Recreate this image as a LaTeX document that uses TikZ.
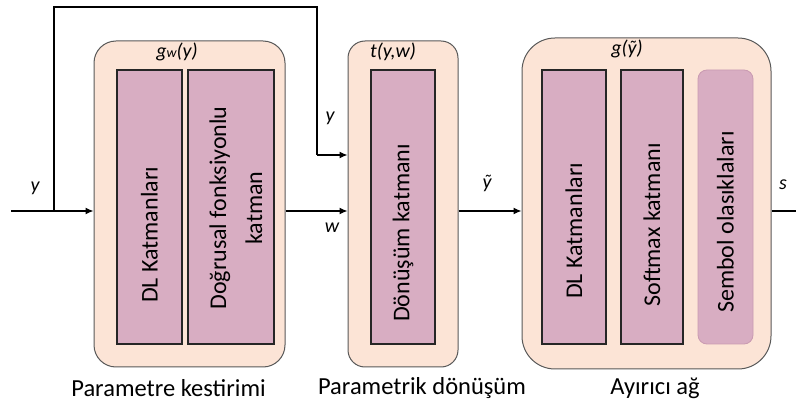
\documentclass[tikz,border=0pt]{standalone}
\usepackage{fontspec}
\setmainfont{Carlito}
\usetikzlibrary{arrows.meta, positioning}
\definecolor{stagefill}{HTML}{FCE4D6}
\definecolor{stagedraw}{HTML}{595959}
\definecolor{layerfill}{HTML}{D8ADC2}
\definecolor{softdraw}{HTML}{C99AB1}

\begin{document}
\begin{tikzpicture}[x=1pt, y=-1pt,
    stage/.style={rectangle, draw=stagedraw, fill=stagefill, line width=1pt, inner sep=0pt},
    layer/.style={rectangle, draw=black!85, fill=layerfill, line width=1.2pt, inner sep=0pt},
    layertext/.style={rotate=90, font=\fontsize{24}{36}\selectfont, align=center},
    sig/.style={font=\fontsize{20}{24}\selectfont\itshape},
    caption/.style={font=\fontsize{24.5}{28}\selectfont},
    flow/.style={line width=1.2pt, -{Latex[length=8pt,width=7pt]}}]
    \useasboundingbox (0,0) rectangle (796,406);

    % Stages
    \node[stage, rounded corners=22pt, minimum width=191pt, minimum height=326pt] (est) at (189.5,204) {};
    \node[stage, rounded corners=17pt, minimum width=110pt, minimum height=326pt] (tr) at (403,204) {};
    \node[stage, rounded corners=33pt, minimum width=249pt, minimum height=331pt] (cls) at (646.5,203.5) {};

    % Layers inside each stage
    \node[layer, minimum width=65pt, minimum height=274pt] (dl1) at (149.5,207) {};
    \node[layer, minimum width=86pt, minimum height=274pt] (lin) at (231,207) {};
    \node[layer, minimum width=64pt, minimum height=274pt] (conv) at (403,207) {};
    \node[layer, minimum width=64pt, minimum height=274pt] (dl2) at (574,207) {};
    \node[layer, minimum width=62pt, minimum height=274pt] (soft) at (652,207) {};
    \node[layer, draw=softdraw, line width=0.8pt, rounded corners=9pt, minimum width=55pt, minimum height=274pt] (prob) at (725.5,207) {};

    \node[layertext] (dl1txt) at (149.5,235) {DL Katmanları};
    \node[layertext] (lintxt) at (236,208) {Doğrusal fonksiyonlu\\katman};
    \node[layertext] (convtxt) at (403,233) {Dönüşüm katmanı};
    \node[layertext] (dl2txt) at (574,231) {DL Katmanları};
    \node[layertext] (softtxt) at (652,225) {Softmax katmanı};
    \node[layertext] (probtxt) at (725.5,222) {Sembol olasıklaları};

    % Stage functions
    \node[sig] (gw) at (177,52) {g{\fontsize{14}{14}\selectfont w}(y)};
    \node[sig] (tyw) at (393,52) {t(y,w)};
    \node[sig] (gy) at (627,49) {g(ỹ)};

    % Signal flow
    \coordinate (in) at (11,211);
    \coordinate (tap) at (54,211);
    \coordinate (top) at (317,7);
    \coordinate (ydown) at (317,155);
    \coordinate (out) at (796,211);
    \draw[flow] (in) -- (est.west |- tap);
    \draw[line width=1.2pt] (tap) |- (top) -- (ydown);
    \draw[flow] (ydown) -- (tr.west |- ydown);
    \draw[flow] (est.east |- tap) -- (tr.west |- tap);
    \draw[flow] (tr.east |- tap) -- (cls.west |- tap);
    \draw[line width=1.2pt] (cls.east |- tap) -- (out);

    \node[sig] (ylab) at (35,188) {y};
    \node[sig] (ylab2) at (330,118) {y};
    \node[sig] (wlab) at (332,228) {w};
    \node[sig] (ytlab) at (487,183) {ỹ};
    \node[sig] (slab) at (783,185) {s};

    % Stage captions
    \node[caption] (cap1) at (168.5,388) {Parametre kestirimi};
    \node[caption] (cap2) at (422,388) {Parametrik dönüşüm};
    \node[caption] (cap3) at (655,388) {Ayırıcı ağ};
\end{tikzpicture}
\end{document}
